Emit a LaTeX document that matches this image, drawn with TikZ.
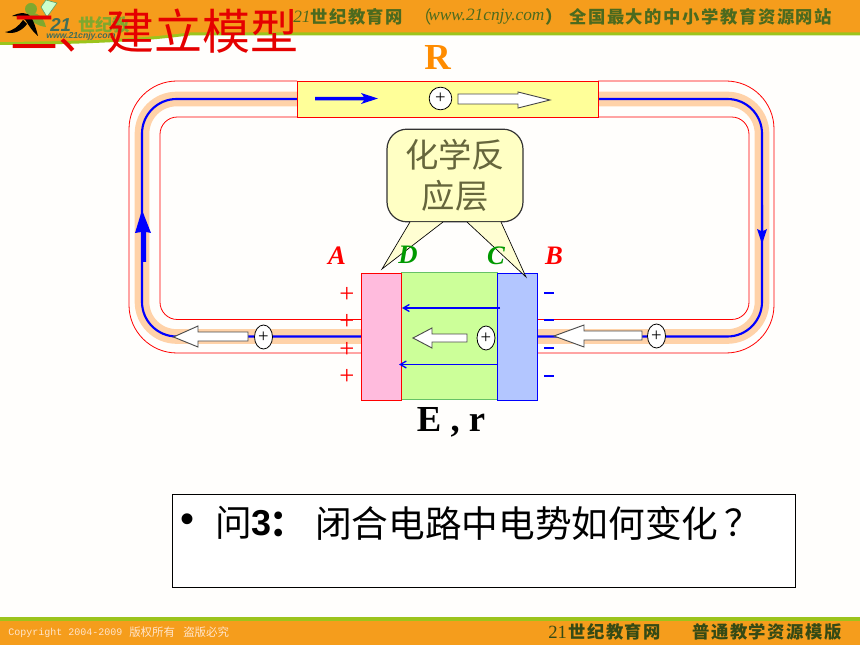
\documentclass[tikz,border=0pt]{standalone}
\usepackage{fontspec}
\setmainfont{Liberation Serif}
\setmonofont{Liberation Mono}
\setsansfont{Liberation Sans}
\newfontfamily\cjk{Noto Sans CJK SC}
\newfontfamily\cjkwide[LetterSpace=9]{Noto Sans CJK SC}
\usetikzlibrary{positioning}
\usetikzlibrary{arrows, backgrounds, shapes.geometric}

\definecolor{bandorange}{HTML}{F59D1C}
\definecolor{bandgreen}{HTML}{9CC41C}
\definecolor{headtext}{HTML}{4C6A1E}
\definecolor{peach}{HTML}{FFD2A8}
\definecolor{resyellow}{HTML}{FFFF99}
\definecolor{boxyellow}{HTML}{FFFFC4}
\definecolor{boxtext}{HTML}{66663C}
\definecolor{platepink}{HTML}{FFBBDD}
\definecolor{platelime}{HTML}{CCFF99}
\definecolor{plateblue}{HTML}{B3C6FF}
\definecolor{logoteal}{HTML}{3F6E5A}
\definecolor{logogreen}{HTML}{7FA82E}

\tikzset{
    wire/.style={draw=blue, line width=1.6pt},
    band/.style={draw=peach, line width=11pt},
    rim/.style={draw=red, line width=0.6pt},
    plate/.style={draw, line width=0.6pt, minimum width=30pt, minimum height=95.25pt, inner sep=0pt, outer sep=0pt},
    whitearrow/.style={draw=black!70, fill=white, line width=0.7pt},
    charge/.style={draw=black, fill=white, ellipse, line width=0.6pt, inner sep=0pt, minimum width=13.5pt, minimum height=18pt},
    letter/.style={font=\bfseries\itshape\fontsize{20}{20}\selectfont, inner sep=0pt},
    bigletter/.style={font=\bfseries\fontsize{27.5}{27.5}\selectfont, inner sep=0pt},
    sign/.style={font=\fontsize{20}{20}\selectfont, inner sep=0pt},
    fieldline/.style={draw=blue, line width=1pt, -angle 60},
    headline/.style={text=headtext, anchor=west, inner sep=0pt},
    footline/.style={anchor=west, inner sep=0pt, text=white!80!orange},
    asktype/.style={inner sep=0pt, font=\cjk\fontsize{27.5}{27.5}\selectfont}
}

\begin{document}
\begin{tikzpicture}[x=0.75pt, y=-0.75pt]
    \useasboundingbox (0,0) rectangle (860,645);

    % resistor and cell first, the loop hangs on them
    \node[plate, draw=red, fill=resyellow, minimum width=225.75pt, minimum height=27pt] (res) at (447.5,99) {};
    \node[plate, draw=green!60!black!60, fill=platelime, minimum width=72pt] (gel) at (449,336) {};
    \node[plate, draw=red, fill=platepink] (plus) at (381,336.5) {};
    \node[plate, draw=blue, fill=plateblue] (minus) at (517,336.5) {};

    \coordinate (bandleft) at (142,99);
    \coordinate (bandright) at (762,99);
    \coordinate (bandlow) at (142,336.5);
    \coordinate (bandlowr) at (762,336.5);

    \begin{scope}[on background layer]
    \fill[white!99!orange] (0,0) rectangle (860,645);
    % top and bottom bands
    \fill[bandgreen] (0,0) -- (860,0) -- (860,35.5) -- (190,35.5) .. controls (165,38) and (130,44) .. (0,45) -- cycle;
    \fill[bandorange] (0,0) -- (860,0) -- (860,32.5) -- (190,32.5) .. controls (165,35) and (130,41) .. (0,42) -- cycle;
    \fill[bandgreen] (0,617) rectangle (860,620.5);
    \fill[bandorange] (0,620.5) rectangle (860,645);
    % the loop
    \draw[band, rounded corners=26pt] (res.west) -- (bandleft) -- (bandlow) -- (plus.west);
    \draw[band, rounded corners=26pt] (res.east) -- (bandright) -- (bandlowr) -- (minus.east);
    \draw[rim, rounded corners=36pt] (res.north west) -- (129,81) -- (129,353) -- (361,353);
    \draw[rim, rounded corners=36pt] (res.north east) -- (774,81) -- (774,353) -- (537,353);
    \draw[rim, rounded corners=13pt] (res.south west) -- (160,117) -- (160,319.5) -- (361,319.5);
    \draw[rim, rounded corners=13pt] (res.south east) -- (749,117) -- (749,319.5) -- (537,319.5);
    \draw[wire, rounded corners=26pt] (res.west) -- (bandleft) -- (bandlow) -- (plus.west);
    \draw[wire, rounded corners=26pt] (res.east) -- (bandright) -- (bandlowr) -- (minus.east);
    \end{scope}

    % logo
    \fill[white!80!green, draw=green!40!black!60, line width=0.5pt] (41,7) -- (46,0) -- (57,3) -- (47,17) -- cycle;
    \fill[logogreen] (31,9) circle (6);
    \fill[logogreen] (27,13) .. controls (38,11) and (44,18) .. (46,27) .. controls (38,26) and (30,22) .. (27,13);
    \fill[black] (12,16) .. controls (20,12) and (28,12) .. (31,17) .. controls (34,22) and (36,28) .. (38,36) .. controls (33,32) and (29,26) .. (26,21) .. controls (24,17) and (18,16) .. (12,16);
    \fill[black] (5,32) .. controls (13,31) and (19,26) .. (23,20) -- (27,24) .. controls (22,31) and (13,35) .. (5,32);
    \node[font=\sffamily\bfseries\itshape\fontsize{14}{14}\selectfont, text=logoteal, anchor=west, inner sep=0pt] (logonum) at (50,25) {21};
    \node[font=\cjk\bfseries\itshape\fontsize{13}{13}\selectfont, text=logogreen, anchor=west, inner sep=0pt] (logoname) at (78,25) {世纪教};
    \node[font=\sffamily\bfseries\itshape\fontsize{6.5}{6.5}\selectfont, text=logoteal, anchor=west, inner sep=0pt] (logourl) at (46,36) {www.21cnjy.com};

    % header and footer texts
    \node[headline, font=\itshape\fontsize{13}{13}\selectfont] (head21) at (293,16.5) {21};
    \node[headline, font=\cjkwide\bfseries\fontsize{13}{13}\selectfont] (headname) at (310,16.5) {世纪教育网};
    \node[headline, font=\cjk\fontsize{13}{13}\selectfont] (headopen) at (414,16.5) {（};
    \node[headline, font=\itshape\fontsize{13}{13}\selectfont] (headurl) at (428,16.5) {www.21cnjy.com};
    \node[headline, font=\cjk\bfseries\fontsize{13}{13}\selectfont] (headclose) at (545,16.5) {）};
    \node[headline, font=\cjkwide\bfseries\fontsize{13}{13}\selectfont] (headslogan) at (569,16.5) {全国最大的中小学教育资源网站};
    \node[footline, font=\ttfamily\fontsize{7.5}{7.5}\selectfont] (footcopy) at (8,632.5) {Copyright 2004-2009};
    \node[footline, font=\cjk\fontsize{8.6}{8.6}\selectfont] (footrights) at (129,632.5) {版权所有};
    \node[footline, font=\cjk\fontsize{8.6}{8.6}\selectfont] (footpirate) at (183,632.5) {盗版必究};
    \node[headline, text=headtext!70!black, font=\fontsize{14}{14}\selectfont] (foot21) at (548,632) {21};
    \node[headline, text=headtext!70!black, font=\cjkwide\bfseries\fontsize{13}{13}\selectfont] (footname) at (568,632) {世纪教育网};
    \node[headline, text=headtext!70!black, font=\cjkwide\bfseries\fontsize{13}{13}\selectfont] (footbrand) at (692,632) {普通教学资源模版};

    % current arrows
    \fill[blue] (315,97) -- (364,97) -- (361,93) -- (378,98.5) -- (361,104) -- (364,100.5) -- (315,100.5) -- cycle;
    \fill[blue] (141.5,262) -- (141.5,232) -- (135,233) -- (142,210) -- (151,233) -- (146,232) -- (146,262) -- cycle;
    \fill[blue] (761,205) -- (761,231) -- (757,229) -- (762,244) -- (767,229) -- (763,231) -- (763,205) -- cycle;
    \coordinate (fielda) at (500,308);
    \coordinate (fieldb) at (402,308);
    \draw[fieldline] (fielda) -- (fieldb);
    \coordinate (fieldc) at (498,364.5);
    \coordinate (fieldd) at (399,364.5);
    \draw[fieldline] (fieldc) -- (fieldd);

    % moving charges
    \node[charge, minimum width=17pt, minimum height=17pt] (qres) at (440.5,98.5) {\fontsize{14}{14}\selectfont +};
    \node[charge] (qleft) at (263.5,337) {\fontsize{14}{14}\selectfont +};
    \node[charge] (qright) at (656.5,336) {\fontsize{14}{14}\selectfont +};
    \node[charge] (qcell) at (486,338) {\fontsize{14}{14}\selectfont +};

    \draw[whitearrow] (458,94) -- (518,94) -- (518,92) -- (550,100) -- (518,108) -- (518,104) -- (458,104) -- cycle;
    \draw[whitearrow] (248,332) -- (198,332) -- (198,326) -- (173.5,337) -- (198,347) -- (198,341) -- (248,341) -- cycle;
    \draw[whitearrow] (642,331) -- (584,331) -- (584,325) -- (554,336) -- (584,347) -- (584,340) -- (642,340) -- cycle;
    \draw[whitearrow] (467,334) -- (432,334) -- (432,328) -- (413,338) -- (432,348) -- (432,342) -- (467,342) -- cycle;

    % charges on the plates
    \foreach \y in {295,322,350,377}
        \node[sign, text=red] at (347,\y) {+};
    \foreach \y in {293,320,348,376}
        \fill[blue] (544,\y-0.7) rectangle (554,\y+0.7);

    % callout
    \node[draw=black!80, fill=boxyellow, rounded corners=15pt, line width=0.9pt, minimum width=102pt, minimum height=69.5pt, align=center, inner sep=0pt, text=boxtext, font=\cjk\fontsize{25}{31}\selectfont] (layer) at (455,175.5) {化学反\\应层};
    \coordinate (tipd) at (382,269);
    \coordinate (tipc) at (526,277);
    \fill[boxyellow, opacity=0.75] (410,222) -- (tipd) -- (443,222) -- cycle;
    \fill[boxyellow, opacity=0.75] (467,222) -- (tipc) -- (501,222) -- cycle;
    \draw[black, line width=0.5pt] (410,222) -- (tipd) -- (443,222);
    \draw[black, line width=0.5pt] (467,222) -- (tipc) -- (501,222);

    % letters
    \node[letter, text=red] (labela) at (337,256) {A};
    \node[letter, text=red] (labelb) at (554,256) {B};
    \node[letter, text=green!60!black] (labeld) at (408,255) {D};
    \node[letter, text=green!60!black] (labelc) at (496,256) {C};
    \node[bigletter, text=orange!90!yellow] (labelr) at (437.5,57) {R};
    \node[bigletter, text=black] (labele) at (451,422) {E , r};

    % question
    \node[draw=black, fill=white, line width=0.7pt, minimum width=467.25pt, minimum height=69.75pt, inner sep=0pt] (askbox) at (483.5,540.5) {};
    \node[inner sep=0pt, font=\sffamily\fontsize{30}{30}\selectfont] (askdot) at (187,523) {•};
    \node[asktype, anchor=west] (askq) at (215,523) {问};
    \node[anchor=west, inner sep=0pt, font=\sffamily\bfseries\fontsize{27}{27}\selectfont] (asknum) at (251,523) {3};
    \node[asktype, font=\cjk\bfseries\fontsize{27.5}{27.5}\selectfont] (askcolon) at (288,524) {：};
    \node[asktype, anchor=west] (asktext) at (315,523) {闭合电路中电势如何变化};
    \node[asktype, anchor=west] (askmark) at (724,523) {？};

    % title goes over everything
    \node[anchor=west, inner sep=0pt, text=red!90!black, font=\cjk\fontsize{36}{36}\selectfont] (title) at (10,31) {二、建立模型};
\end{tikzpicture}
\end{document}
